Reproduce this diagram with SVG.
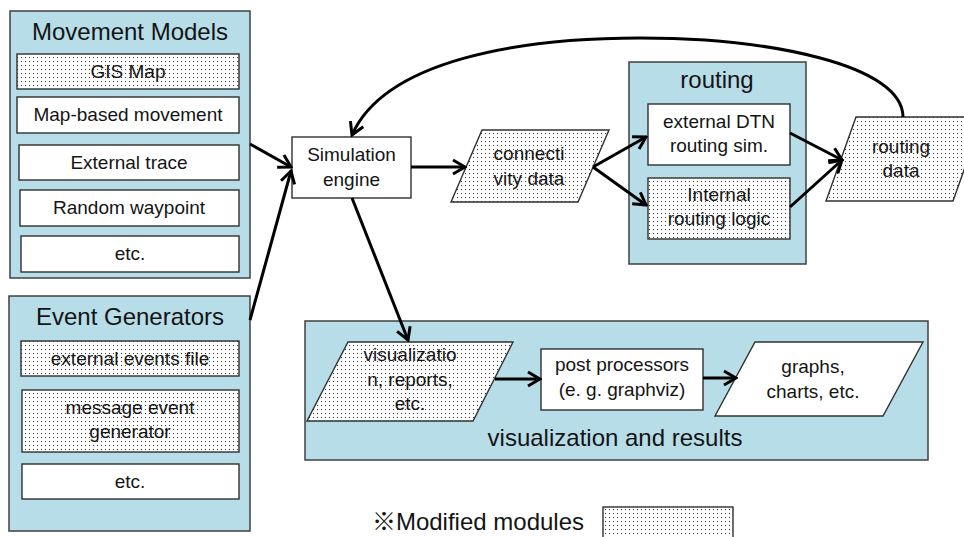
<svg xmlns="http://www.w3.org/2000/svg" width="964" height="537" viewBox="0 0 964 537">
<defs>
<pattern id="dots" width="4" height="4" patternUnits="userSpaceOnUse">
<rect width="4" height="4" fill="#fff"/>
<rect x="1" y="1" width="1" height="1" fill="#333"/>
</pattern>
<marker id="arr" viewBox="0 0 16 18" refX="14" refY="9" markerWidth="16" markerHeight="18" markerUnits="userSpaceOnUse" orient="auto">
<path d="M2,2 L14,9 L2,16" fill="none" stroke="#000" stroke-width="3" stroke-linejoin="miter"/>
</marker>
<style>
.grp{fill:#b7dde8;stroke:#404040;stroke-width:1.5}
.box{fill:#fff;stroke:#303030;stroke-width:1.4}
.mod{fill:url(#dots);stroke:#303030;stroke-width:1.4}
text{font-family:"Liberation Sans",Arial,"Noto Sans CJK JP",sans-serif;fill:#141414;text-anchor:middle}
.t{font-size:19px}
.h{font-size:24px}
.c{fill:none;stroke:#000;stroke-width:3;marker-end:url(#arr)}
</style>
</defs>

<g id="movement-models">
<rect class="grp" x="10" y="11" width="240" height="267"/>
<text class="h" x="130" y="40">Movement Models</text>
<g id="gis-map"><rect class="mod" x="17" y="54" width="222" height="35"/><text class="t" x="128" y="78">GIS Map</text></g>
<g id="map-based"><rect class="box" x="17" y="97" width="222" height="36"/><text class="t" x="128" y="121">Map-based movement</text></g>
<g id="external-trace"><rect class="box" x="19" y="145" width="220" height="35"/><text class="t" x="129" y="169">External trace</text></g>
<g id="random-waypoint"><rect class="box" x="20" y="190" width="219" height="36"/><text class="t" x="129" y="214">Random waypoint</text></g>
<g id="mm-etc"><rect class="box" x="21" y="236" width="218" height="36"/><text class="t" x="130" y="260">etc.</text></g>
</g>

<g id="event-generators">
<rect class="grp" x="9" y="296" width="241" height="235"/>
<text class="h" x="130" y="325">Event Generators</text>
<g id="external-events"><rect class="mod" x="21" y="341" width="218" height="35"/><text class="t" x="130" y="365">external events file</text></g>
<g id="message-event"><rect class="mod" x="22" y="390" width="217" height="62"/><text class="t" x="130" y="414">message event</text><text class="t" x="130" y="438">generator</text></g>
<g id="eg-etc"><rect class="box" x="22" y="464" width="217" height="35"/><text class="t" x="130" y="488">etc.</text></g>
</g>

<g id="simulation-engine">
<rect class="box" x="292" y="137" width="119" height="61"/>
<text class="t" x="351.5" y="161">Simulation</text>
<text class="t" x="351.5" y="186">engine</text>
</g>

<g id="connectivity-data">
<polygon class="mod" points="482,130 609,130 578,202 451,202"/>
<text class="t" x="529" y="160">connecti</text>
<text class="t" x="529" y="185">vity data</text>
</g>

<g id="routing">
<rect class="grp" x="629" y="62" width="177" height="202"/>
<text class="h" x="717" y="88">routing</text>
<g id="external-dtn"><rect class="box" x="648" y="104" width="142" height="61"/><text class="t" x="719" y="128">external DTN</text><text class="t" x="719" y="152">routing sim.</text></g>
<g id="internal-routing"><rect class="mod" x="648" y="178" width="142" height="61"/><text class="t" x="719" y="201">Internal</text><text class="t" x="719" y="225">routing logic</text></g>
</g>

<g id="routing-data">
<polygon class="mod" points="856,117 983,117 953,201 826,201"/>
<text class="t" x="901" y="153">routing</text>
<text class="t" x="901" y="177">data</text>
</g>

<g id="visualization-results">
<rect class="grp" x="305" y="321" width="623" height="139"/>
<text class="h" x="615" y="446">visualization and results</text>
<g id="vis-reports"><polygon class="mod" points="348,342 513,342 473,421 307,421"/><text class="t" x="410" y="361">visualizatio</text><text class="t" x="410" y="386">n, reports,</text><text class="t" x="410" y="410">etc.</text></g>
<g id="post-processors"><rect class="box" x="541" y="349" width="162" height="61"/><text class="t" x="622" y="371">post processors</text><text class="t" x="622" y="396">(e. g. graphviz)</text></g>
<g id="graphs"><polygon class="box" points="755,342 923,342 883,416 715,416"/><text class="t" x="813" y="373">graphs,</text><text class="t" x="813" y="398">charts, etc.</text></g>
</g>

<g id="connectors">
<line class="c" x1="250" y1="144" x2="291" y2="167"/>
<line class="c" x1="250" y1="320" x2="291" y2="171"/>
<line class="c" x1="411" y1="167" x2="465" y2="167"/>
<line class="c" x1="593" y1="167" x2="646" y2="137"/>
<line class="c" x1="593" y1="167" x2="646" y2="205"/>
<line class="c" x1="790" y1="133" x2="842" y2="160"/>
<line class="c" x1="790" y1="207" x2="842" y2="160"/>
<path class="c" d="M903,117 C903,65 770,38 640,38 C520,38 385,60 352,135"/>
<line class="c" x1="352" y1="198" x2="408" y2="340"/>
<line class="c" x1="495" y1="379" x2="540" y2="379"/>
<line class="c" x1="703" y1="378" x2="736" y2="378"/>
</g>

<g id="legend">
<text class="h" x="478" y="530">※Modified modules</text>
<rect class="mod" x="603" y="507" width="130" height="34"/>
</g>
</svg>
